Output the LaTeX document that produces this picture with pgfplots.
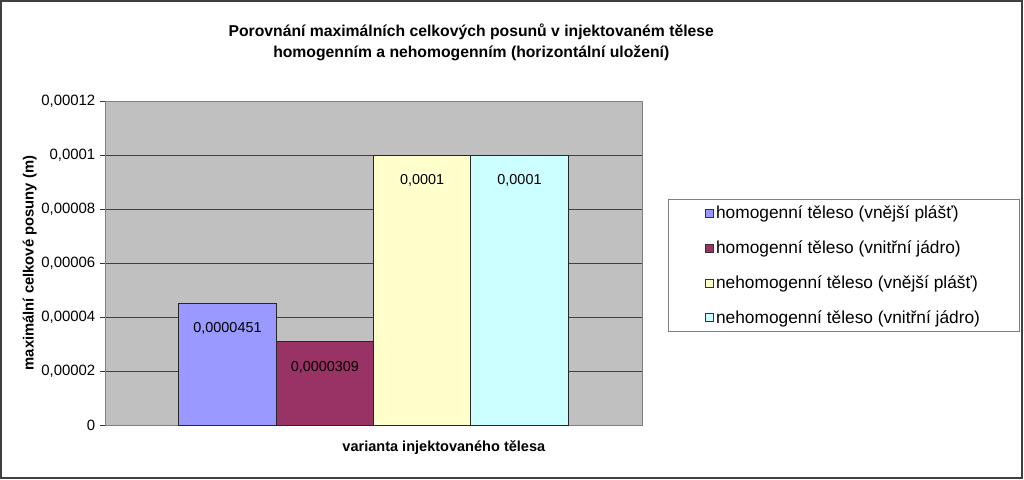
\documentclass[border=0pt]{standalone}
\usepackage{fontspec}
\setmainfont{Liberation Sans}
\usepackage{pgfplots}
\pgfplotsset{compat=1.18}

\definecolor{barA}{HTML}{9999FF}
\definecolor{barB}{HTML}{993366}
\definecolor{barC}{HTML}{FFFFCC}
\definecolor{barD}{HTML}{CCFFFF}
\definecolor{plotbg}{HTML}{C0C0C0}
\definecolor{framegray}{HTML}{808080}

\begin{document}
\begin{tikzpicture}
    % picture = 1024 x 479 px, 1 px = 0.75 pt
    \useasboundingbox (0,0) rectangle (768pt,359.25pt);
    \draw[draw=black!75, line width=1.5pt] (0.75pt,0.75pt) rectangle (766.5pt,358.5pt);
    \begin{axis}[
        at={(78.75pt,40.5pt)}, anchor=south west,
        scale only axis,
        width=402.75pt, height=243pt,
        ybar=0pt,
        bar width=73pt,
        xmin=-1, xmax=1,
        xtick=\empty,
        ymin=0, ymax=0.00012,
        scaled y ticks=false,
        ytick={0,0.00002,0.00004,0.00006,0.00008,0.0001,0.00012},
        yticklabels={0,{0,00002},{0,00004},{0,00006},{0,00008},{0,0001},{0,00012}},
        ytick pos=left,
        tick align=outside,
        major tick length=3.75pt,
        ytick style={black!80, line width=0.6pt},
        yticklabel style={font=\fontsize{11.2}{13}\selectfont},
        ymajorgrids,
        grid style={black!75, line width=0.6pt},
        axis background/.style={fill=plotbg},
        axis line style={framegray, line width=0.6pt},
        title={Porovnání maximálních celkových posunů v injektovaném tělese\\homogenním a nehomogenním (horizontální uložení)},
        title style={at={(0.682,1.185)}, anchor=center, yshift=-7pt, align=center,
            font=\bfseries\fontsize{11.8}{16}\selectfont},
        ylabel={maximální celkové posuny (m)},
        ylabel style={at={(axis description cs:-0.14,0.5)}, anchor=center,
            font=\bfseries\fontsize{11.1}{13}\selectfont},
        xlabel={varianta injektovaného tělesa},
        xlabel style={at={(axis description cs:0.631,-0.071)}, anchor=center,
            font=\bfseries\fontsize{10.9}{13}\selectfont},
        point meta=explicit symbolic,
        nodes near coords,
        every node near coord/.append style={anchor=north, yshift=-11pt,
            font=\fontsize{10.8}{13}\selectfont, black},
        legend style={at={(1.048,0.492)}, anchor=west, draw=framegray,
            line width=0.6pt, inner xsep=27.4pt, inner ysep=3pt,
            row sep=11pt, font=\fontsize{13}{15}\selectfont},
        legend cell align=left,
        legend image code/.code={\draw[#1, draw=black!80, line width=0.5pt] (0pt,-3pt) rectangle (6pt,3pt);},
        ]
        \addplot[fill=barA, draw=black!85, line width=0.7pt] coordinates {(0,0.0000451) [{0,0000451}]};
        \addplot[fill=barB, draw=black!85, line width=0.7pt] coordinates {(0,0.0000309) [{0,0000309}]};
        \addplot[fill=barC, draw=black!85, line width=0.7pt] coordinates {(0,0.0001) [{0,0001}]};
        \addplot[fill=barD, draw=black!85, line width=0.7pt] coordinates {(0,0.0001) [{0,0001}]};
        \legend{homogenní těleso (vnější plášť),homogenní těleso (vnitřní jádro),nehomogenní těleso (vnější plášť),nehomogenní těleso (vnitřní jádro)}
    \end{axis}
\end{tikzpicture}
\end{document}
